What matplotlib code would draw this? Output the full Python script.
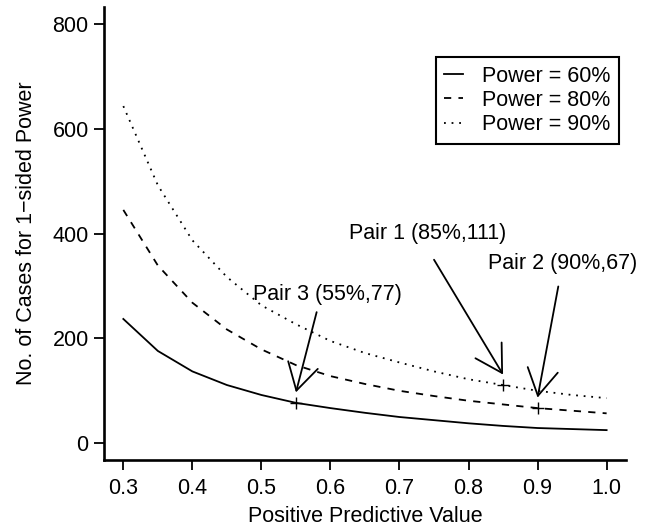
import matplotlib
matplotlib.use('Agg')
import matplotlib.pyplot as plt

plt.rcParams['font.family'] = ['Liberation Sans', 'DejaVu Sans']

# positive predictive value grid
ppv = [0.30, 0.35, 0.40, 0.45, 0.50, 0.55, 0.60, 0.65, 0.70, 0.75, 0.80, 0.85, 0.90, 0.95, 1.00]

# number of cases needed
n_power60 = [237, 176, 137, 111, 92, 77, 67, 58, 50, 44, 38, 33, 29, 27, 25]
n_power80 = [445, 339, 268, 217, 179, 149, 128, 113, 100, 90, 81, 74, 67, 62, 57]
n_power90 = [643, 492, 387, 317, 263, 227, 195, 172, 154, 137, 122, 111, 100, 92, 86]

legend_labels = ['Power = 60%', 'Power = 80%', 'Power = 90%']

# the three marked design pairs
pair_labels = ['Pair 1 (85%,111)', 'Pair 2 (90%,67)', 'Pair 3 (55%,77)']
pair_x = [0.85, 0.90, 0.55]
pair_y = [111, 67, 77]

# label baseline and arrow tail positions (data coords)
label_pos = [(0.741, 389), (0.936, 332), (0.595, 273)]
arrow_tail = [(0.75, 350), (0.93, 299), (0.58, 250)]

FS = 15.5

fig = plt.figure(figsize=(6.5, 5.31), dpi=100)
ax = fig.add_axes([0.16, 0.1337, 0.803, 0.8531])

lw = 1.3
ax.plot(ppv, n_power60, color='black', lw=lw, linestyle='-', label=legend_labels[0])
ax.plot(ppv, n_power80, color='black', lw=lw, linestyle=(0, (4, 4)), label=legend_labels[1])
ax.plot(ppv, n_power90, color='black', lw=lw, linestyle=(0, (1, 3.2)), label=legend_labels[2])

ax.plot(pair_x, pair_y, linestyle='none', marker='+', markersize=8, mew=1.0, color='black')

for lab, px, py, (tx, ty), (ax0, ay0) in zip(pair_labels, pair_x, pair_y, label_pos, arrow_tail):
    ax.annotate('', xy=(px, py + 20), xytext=(ax0, ay0),
                arrowprops=dict(arrowstyle='->,head_length=1.9,head_width=1.1',
                                lw=1.3, color='black', shrinkA=0, shrinkB=0))
    ax.text(tx, ty, lab, ha='center', va='baseline', fontsize=FS)

ax.set_xlim(0.272, 1.028)
ax.set_ylim(-32, 832)
ax.set_xticks([0.3, 0.4, 0.5, 0.6, 0.7, 0.8, 0.9, 1.0])
ax.set_xticklabels(['0.3', '0.4', '0.5', '0.6', '0.7', '0.8', '0.9', '1.0'])
ax.set_yticks([0, 200, 400, 600, 800])

for s in ['top', 'right']:
    ax.spines[s].set_visible(False)
for s in ['left', 'bottom']:
    ax.spines[s].set_linewidth(1.9)

ax.tick_params(axis='both', direction='out', length=7, width=1.3, labelsize=FS)
ax.tick_params(axis='x', pad=6)
ax.tick_params(axis='y', pad=4)

ax.set_xlabel('Positive Predictive Value', fontsize=FS, labelpad=5)
ax.set_ylabel('No. of Cases for 1\u2212sided Power', fontsize=FS, labelpad=11)

leg = ax.legend(loc='upper right', bbox_to_anchor=(0.9866, 0.8896), borderaxespad=0,
                fontsize=FS, handlelength=0.85, handletextpad=0.9, labelspacing=0.15,
                borderpad=0.4, fancybox=False, framealpha=1)
leg.get_frame().set_edgecolor('black')
leg.get_frame().set_linewidth(1.5)

fig.savefig('out.png', dpi=100)
